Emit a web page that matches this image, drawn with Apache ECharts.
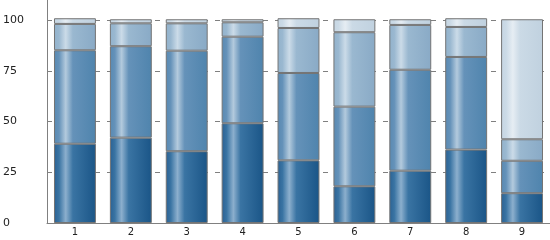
<!DOCTYPE html>
<html><head><meta charset="utf-8">
<script src="https://cdn.jsdelivr.net/npm/echarts@6/dist/echarts.min.js"></script>
<style>html,body{margin:0;padding:0;background:#fff}#c{width:550px;height:240px}</style>
</head><body><div id="c"></div>
<script>
var categories = ['1','2','3','4','5','6','7','8','9'];
var seriesA = [39.1, 42.1, 35.4, 49.2, 30.9, 18.1, 25.8, 36.2, 14.7];
var seriesB = [46.1, 45.1, 49.6, 42.7, 43.1, 39.3, 49.8, 45.7, 16.0];
var seriesC = [13.0, 11.3, 13.5, 7.1, 22.2, 36.7, 22.1, 14.8, 10.6];
var seriesD = [2.8, 2.0, 2.0, 1.5, 4.8, 6.4, 2.8, 4.3, 59.2];
var yTicks = [0, 25, 50, 75, 100];

function grad(edge, hi, mid, dark) {
  return {type:'linear', x:0, y:0, x2:1, y2:0, colorStops:[
    {offset:0, color:edge},{offset:0.12, color:mid},{offset:0.28, color:hi},
    {offset:0.45, color:mid},{offset:1, color:dark}]};
}
var styles = [
  grad('#2b6193', '#8cafcd', '#3a74a3', '#1a5587'),
  grad('#5889b2', '#b3cadd', '#6592b9', '#4f84ad'),
  grad('#92b2cc', '#cbdbe8', '#9ab8d0', '#89aac6'),
  grad('#c6d6e3', '#e6edf3', '#cbdae6', '#c0d1df')
];
var data = [seriesA, seriesB, seriesC, seriesD];
var series = data.map(function(d, i){
  return {type:'bar', stack:'s', data:d, barCategoryGap:'25%',
    itemStyle:{color:styles[i], borderColor:'#747474', borderWidth:1}};
});
var chart = echarts.init(document.getElementById('c'));
chart.setOption({
  animation:false,
  grid:{left:47, right:0, top:0, bottom:17},
  xAxis:{type:'category', data:categories,
    axisLine:{lineStyle:{color:'#808080', width:1}},
    axisTick:{show:false},
    axisLabel:{color:'#222', fontFamily:'DejaVu Sans', fontSize:10, margin:4}},
  yAxis:{type:'value', min:0, max:110, interval:25,
    axisLine:{show:true, lineStyle:{color:'#808080', width:1}},
    axisTick:{show:false},
    axisLabel:{color:'#222', fontFamily:'DejaVu Sans', fontSize:11, align:'left', margin:44,
      formatter:function(v){ return yTicks.indexOf(v) >= 0 ? String(v) : ''; }},
    splitLine:{show:true, showMinLine:false, showMaxLine:false,
      lineStyle:{color:'#808080', type:[5,7], width:1}}},
  series: series
});
</script></body></html>
